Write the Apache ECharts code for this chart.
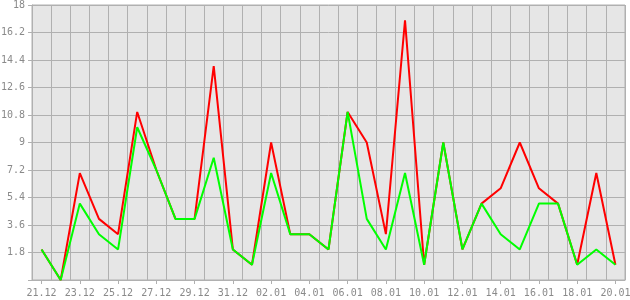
<!DOCTYPE html>
<html><head><meta charset="utf-8">
<script src="https://cdn.jsdelivr.net/npm/echarts@6/dist/echarts.min.js"></script>
<style>html,body{margin:0;padding:0;background:#fff}#c{width:630px;height:300px}</style>
</head><body><div id="c"></div>
<script>
const categories = ['21.12','22.12','23.12','24.12','25.12','26.12','27.12','28.12','29.12','30.12','31.12',
  '01.01','02.01','03.01','04.01','05.01','06.01','07.01','08.01','09.01','10.01',
  '11.01','12.01','13.01','14.01','15.01','16.01','17.01','18.01','19.01','20.01'];
const redValues   = [2,0,7,4,3,11,7.2,4,4,14,2,1,9,3,3,2,11,9,3,17,1,9,2,5,6,9,6,5,1,7,1];
const greenValues = [2,0,5,3,2,10,7.2,4,4,8,2,1,7,3,3,2,11,4,2,7,1,9,2,5,3,2,5,5,1,2,1];
const yMin = 0, yMax = 18, yStep = 1.8;

const chart = echarts.init(document.getElementById('c'), null, {renderer:'canvas'});
const labelStyle = {color:'#8a8a8a', fontFamily:'DejaVu Sans Mono', fontSize:10};
chart.setOption({
  animation:false,
  backgroundColor:'#ffffff',
  grid:{left:32,right:5,top:5,bottom:20,containLabel:false,outerBoundsMode:'none',show:true,backgroundColor:'#e6e6e6',borderColor:'#b0b0b0',borderWidth:1},
  xAxis:{
    type:'category', data:categories, boundaryGap:true,
    axisLine:{lineStyle:{color:'#b0b0b0',width:1}},
    axisTick:{show:true,interval:1,alignWithLabel:true,length:4,lineStyle:{color:'#b0b0b0'}},
    axisLabel:Object.assign({interval:1,margin:8,hideOverlap:false}, labelStyle),
    splitLine:{show:true,interval:0,lineStyle:{color:'#b0b0b0',width:1}}
  },
  yAxis:{
    type:'value', min:yMin, max:yMax, interval:yStep,
    axisLine:{show:true,lineStyle:{color:'#b0b0b0',width:1}},
    axisTick:{show:true,length:4,lineStyle:{color:'#b0b0b0'}},
    axisLabel:Object.assign({margin:7,formatter:v=>v===0?'':String(+v.toFixed(1))}, labelStyle),
    splitLine:{show:true,lineStyle:{color:'#b0b0b0',width:1}}
  },
  series:[
    {type:'line',data:redValues,showSymbol:false,lineStyle:{color:'#ff0000',width:2},itemStyle:{color:'#ff0000'}},
    {type:'line',data:greenValues,showSymbol:false,lineStyle:{color:'#00ff00',width:2},itemStyle:{color:'#00ff00'}}
  ]
});
</script></body></html>
